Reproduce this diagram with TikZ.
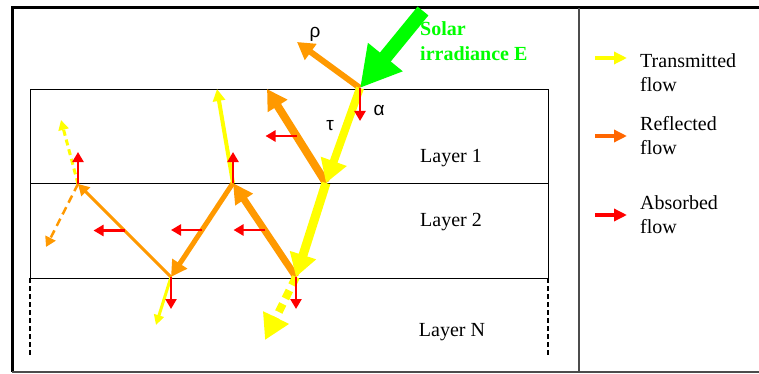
\documentclass[tikz,border=0pt]{standalone}
\usepackage{fontspec}
\setmainfont{Liberation Serif}
\newfontfamily\greekfont{Liberation Sans}
\usepackage{xcolor}
\usepackage{tikz}
\usetikzlibrary{arrows.meta}
\usetikzlibrary{calc}

\definecolor{transyellow}{RGB}{255,255,0}
\definecolor{reflorange}{RGB}{255,153,0}
\definecolor{legorange}{RGB}{255,102,0}
\definecolor{absred}{RGB}{255,0,0}
\definecolor{solargreen}{RGB}{0,255,0}

\begin{document}
\begin{tikzpicture}[x=1pt,y=-1pt,
		ray/.style n args={4}{draw=#1, line width=#2, -{Triangle[length=#3,width=#4]}},
		absorb/.style={draw=absred, line width=2.5pt, -{Triangle[length=10pt,width=11pt]}},
		layerlbl/.style={font=\fontsize{20}{24}\selectfont, anchor=base, inner sep=0pt},
		legtext/.style={font=\fontsize{20}{24}\selectfont, anchor=base west, align=left, inner sep=0pt},
		greek/.style={font=\greekfont\fontsize{19}{21}\selectfont, anchor=base, inner sep=0pt}]
			\useasboundingbox (0,0) rectangle (759,374);

			% Frame and legend separator
			\draw[line width=3pt] (759,8) -- (12,8) -- (12,372);
			\draw[line width=1.5pt, black!70] (12,372) -- (759,372);
			\draw[line width=1.2pt, black!70] (579,8) -- (579,372);

			% Layers
			\draw[line width=0.8pt] (30,278) -- (30,89) -- (548,89) -- (548,278);
			\draw[line width=0.8pt] (30,183) -- (548,183);
			\draw[line width=0.8pt] (30,278) -- (548,278);
			\draw[dash pattern=on 5pt off 3pt, line width=1.3pt] (30,278) -- (30,357);
			\draw[dash pattern=on 5pt off 3pt, line width=1.3pt] (548,278) -- (548,357);

			% Hit points of the flows
			\coordinate (sun) at (423,11);
			\coordinate (s0) at (360,88);
			\coordinate (p1) at (326,183);
			\coordinate (p2) at (296,277);
			\coordinate (p3) at (233,183);
			\coordinate (p4) at (171,277);
			\coordinate (p5) at (78,184);

			% Free ends
			\coordinate (rho) at (297,42);
			\coordinate (r1) at (267,89);
			\coordinate (r5) at (46,247);
			\coordinate (t1) at (217,89);
			\coordinate (t2) at (156,325);
			\coordinate (t3) at (265,340);
			\coordinate (t4) at (61,120);

			% Reflected flows
			\draw[ray={reflorange}{6pt}{17pt}{19pt}] (s0) -- (rho);
			\draw[ray={reflorange}{8pt}{20pt}{22pt}] (p1) -- (r1);
			\draw[ray={reflorange}{7pt}{20pt}{20pt}] (p2) -- (p3);
			\draw[ray={reflorange}{5pt}{16pt}{17pt}] (p3) -- (p4);
			\draw[ray={reflorange}{3pt}{11pt}{12pt}] (p4) -- (p5);
			\draw[ray={reflorange}{2.5pt}{10pt}{11pt}, dash pattern=on 8pt off 5pt] (p5) -- (r5);

			% Transmitted flows
			\draw[ray={transyellow}{8pt}{23pt}{26pt}] (s0) -- (p1);
			\draw[ray={transyellow}{9pt}{23pt}{26pt}] (p1) -- (p2);
			\draw[ray={transyellow}{4pt}{12pt}{12pt}] (p3) -- (t1);
			\draw[ray={transyellow}{3pt}{10pt}{10pt}] (p4) -- (t2);
			\draw[ray={transyellow}{8pt}{25pt}{27pt}, dash pattern=on 9pt off 6pt] (p2) -- (t3);
			\draw[ray={transyellow}{3pt}{10pt}{10pt}, dash pattern=on 6pt off 4pt] (p5) -- (t4);

			% Absorbed flows
			\coordinate (m1) at ($(p1)!0.5!(r1)$);
			\coordinate (m2) at ($(p2)!0.5!(p3)$);
			\coordinate (m3) at ($(p3)!0.5!(p4)$);
			\coordinate (m4) at ($(p4)!0.5!(p5)$);
			\draw[absorb] (s0) -- ++(0,33);
			\draw[absorb] (m1) -- ++(-31,0);
			\draw[absorb] (m2) -- ++(-31,0);
			\draw[absorb] (m3) -- ++(-31,0);
			\draw[absorb] (m4) -- ++(-31,0);
			\draw[absorb] (p3) -- ++(0,-31);
			\draw[absorb] (p5) -- ++(0,-32);
			\draw[absorb] (p2) -- ++(0,32);
			\draw[absorb] (p4) -- ++(0,32);

			% Solar irradiance
			\draw[ray={solargreen}{14pt}{40pt}{42pt}] (sun) -- (s0);
			\node[font=\bfseries\fontsize{20}{25}\selectfont, text=solargreen, anchor=base west, align=left, inner sep=0pt] (solar) at (420,61) {Solar\\irradiance E};

			% Labels
			\node[greek] (lrho) at (315,38) {ρ};
			\node[greek] (lalpha) at (379,116) {α};
			\node[greek] (ltau) at (330,131) {τ};
			\node[layerlbl] (lay1) at (451,163) {Layer 1};
			\node[layerlbl] (lay2) at (451,226) {Layer 2};
			\node[layerlbl] (layN) at (452,336) {Layer N};

			% Legend
			\coordinate (k1) at (595,58);
			\coordinate (k2) at (595,136);
			\coordinate (k3) at (595,215);
			\draw[ray={transyellow}{4pt}{13pt}{12pt}] (k1) -- ++(32,0);
			\draw[ray={legorange}{4pt}{13pt}{12pt}] (k2) -- ++(32,0);
			\draw[ray={absred}{4pt}{13pt}{12pt}] (k3) -- ++(32,0);
			\node[legtext] (legt) at (640,92) {Transmitted\\flow};
			\node[legtext] (legr) at (640,154) {Reflected\\flow};
			\node[legtext] (lega) at (640,233) {Absorbed\\flow};

		\end{tikzpicture}
\end{document}
